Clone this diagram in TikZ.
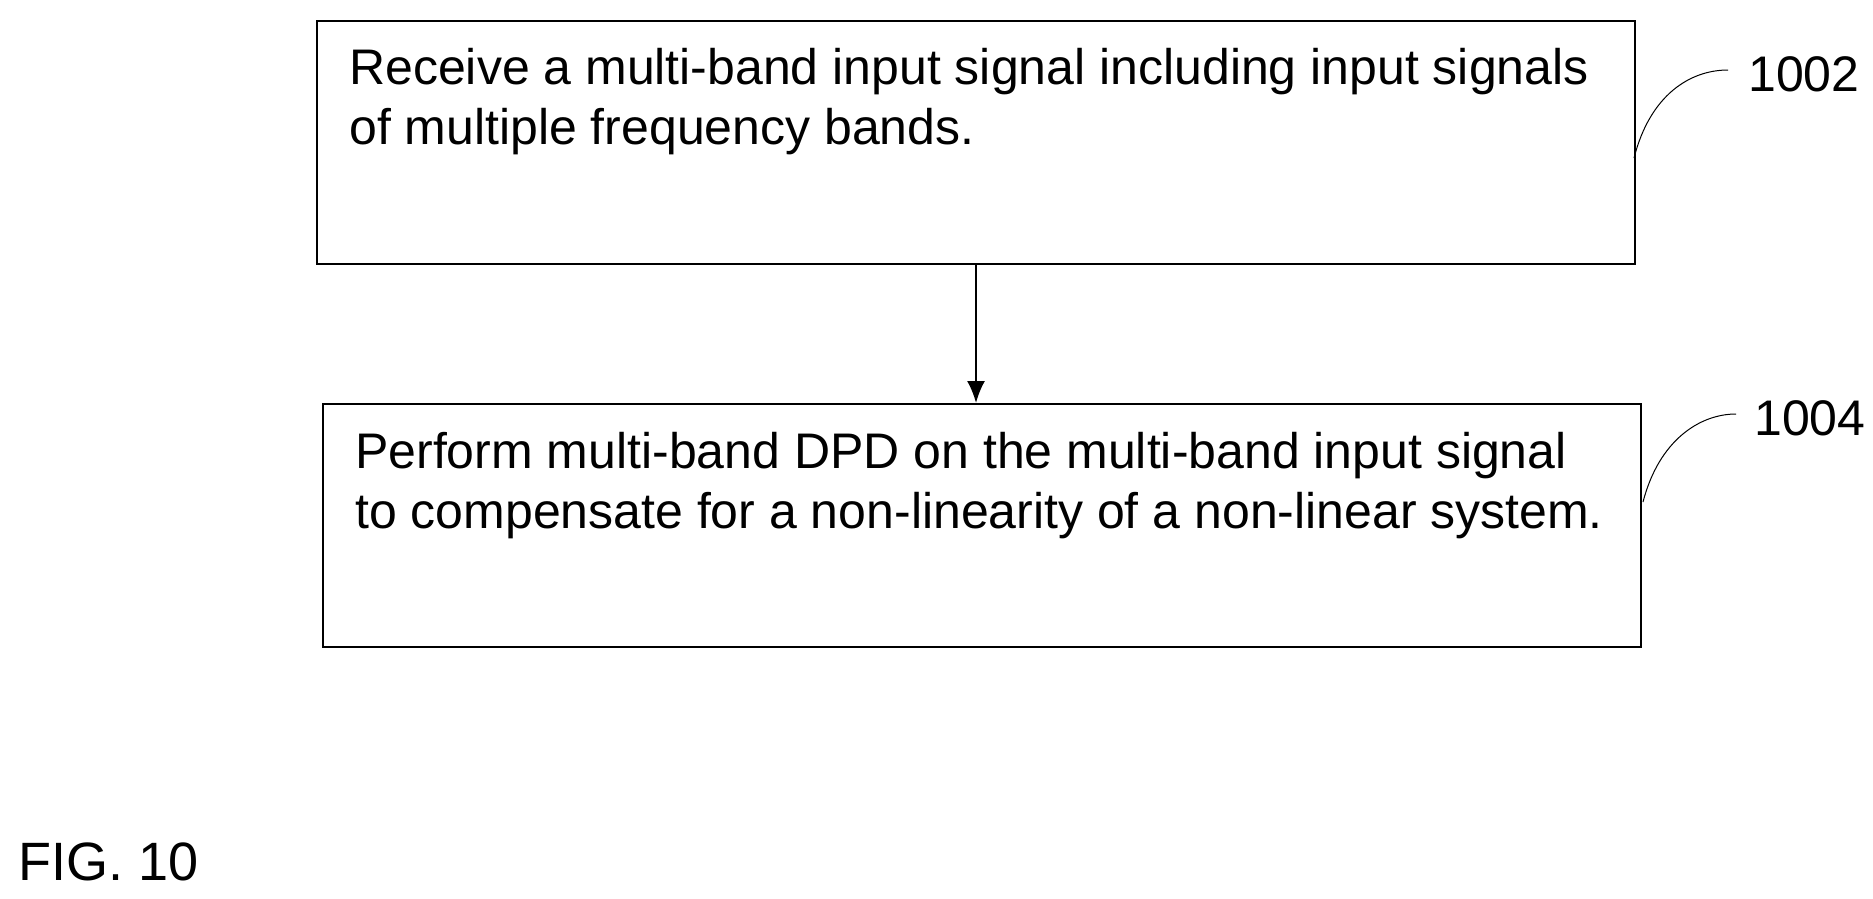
\documentclass[tikz,border=0pt]{standalone}
\usepackage{fontspec}
\setmainfont{Liberation Sans}
\usetikzlibrary{arrows.meta}
\begin{document}
\begin{tikzpicture}[x=1pt,y=-1pt,
  box/.style={draw,line width=2pt},
  txt/.style={anchor=base west,font=\fontsize{50}{60}\selectfont,align=left,inner sep=0pt},
  lbl/.style={font=\fontsize{50}{60}\selectfont,inner sep=0pt}]
\useasboundingbox (0,0) rectangle (1873,898);
\node[box,minimum width=1318,minimum height=243,anchor=north west] (b1) at (316,20) {};
\node[box,minimum width=1318,minimum height=243,anchor=north west] (b2) at (322,403) {};
\node[txt] (t1) at (349,144) {Receive a multi-band input signal including input signals\\of multiple frequency bands.};
\node[txt] (t2) at (355,528) {Perform multi-band DPD on the multi-band input signal\\to compensate for a non-linearity of a non-linear system.};
\draw[line width=2pt,-{Latex[length=22pt,width=18pt]}] (b1.south) -- (b1.south |- b2.north);
\node[lbl,anchor=west] (l1) at (1748,74) {1002};
\node[lbl,anchor=west] (l2) at (1754,418) {1004};
\coordinate (c1) at (1634,158);
\coordinate (c2) at (1643,502);
\coordinate (e1) at (1728,70);
\coordinate (e2) at (1736,414);
\draw[line width=1pt] (c1) .. controls (1650,95) and (1690,70) .. (e1);
\draw[line width=1pt] (c2) .. controls (1659,440) and (1700,414) .. (e2);
\node[lbl,font=\fontsize{54}{60}\selectfont,anchor=base west] (fig) at (18,880) {FIG. 10};
\end{tikzpicture}
\end{document}
